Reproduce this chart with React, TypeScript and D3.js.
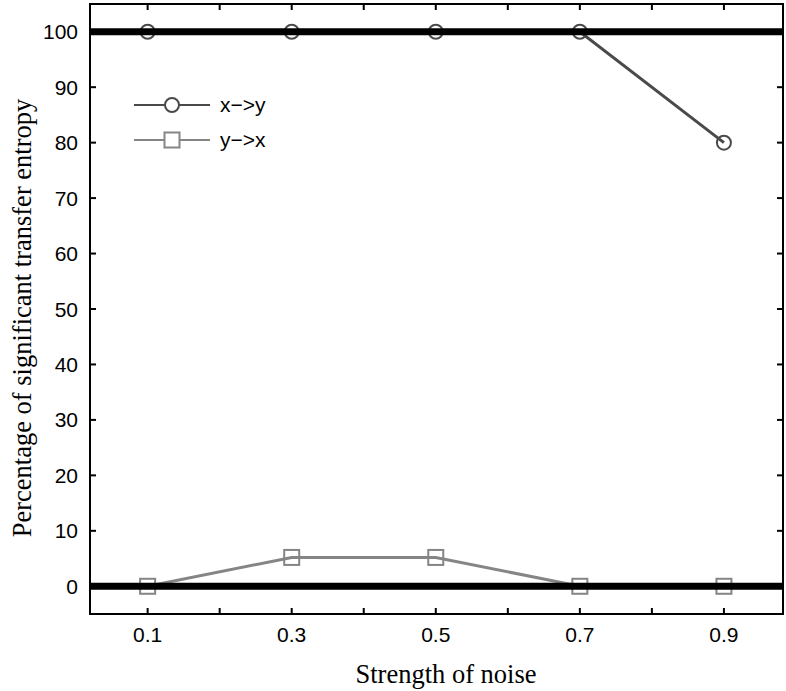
import React from "react";
import * as d3 from "d3";

const noise = [0.1, 0.3, 0.5, 0.7, 0.9];
const xToY = [100, 100, 100, 100, 80];
const yToX = [0, 5.2, 5.2, 0, 0];
const xTicks = [0.1, 0.2, 0.3, 0.4, 0.5, 0.6, 0.7, 0.8, 0.9];
const xTickLabels = ["0.1", "0.3", "0.5", "0.7", "0.9"];
const yTicks = [0, 10, 20, 30, 40, 50, 60, 70, 80, 90, 100];
const refLines = [0, 100];
const seriesNames = ["x\u2212>y", "y\u2212>x"];

const W = 786;
const H = 691;
const L = 90, R = 783, T = 4, B = 614;

export default function App() {
  const x = d3.scaleLinear().domain([0.02, 0.982]).range([L, R]);
  const y = d3.scaleLinear().domain([-5, 105]).range([B, T]);
  const line = d3
    .line<number>()
    .x((_, i) => x(noise[i]))
    .y((d) => y(d));
  const tick = 6;
  const sans = "'Liberation Sans', Arial, Helvetica, sans-serif";
  const serif = "'Liberation Serif', 'Times New Roman', serif";
  const c1 = "#4a4a4a";
  const c2 = "#858585";
  const sq = 15;

  return (
    <svg width={W} height={H} style={{ position: "absolute", left: 0, top: 0, background: "#fff" }}>
      <rect x={0} y={0} width={W} height={H} fill="#fff" />
      {/* series lines */}
      <path d={line(xToY) || ""} fill="none" stroke={c1} strokeWidth={3} />
      <path d={line(yToX) || ""} fill="none" stroke={c2} strokeWidth={3} />
      {xToY.map((v, i) => (
        <circle key={"c" + i} cx={x(noise[i])} cy={y(v)} r={7} fill="none" stroke={c1} strokeWidth={2} />
      ))}
      {yToX.map((v, i) => (
        <rect key={"s" + i} x={x(noise[i]) - sq / 2} y={y(v) - sq / 2} width={sq} height={sq} fill="none" stroke={c2} strokeWidth={2} />
      ))}
      {/* thick reference lines */}
      {refLines.map((v) => (
        <line key={"r" + v} x1={L} x2={R} y1={y(v)} y2={y(v)} stroke="#000" strokeWidth={7} />
      ))}
      {/* frame */}
      <rect x={L} y={T} width={R - L} height={B - T} fill="none" stroke="#000" strokeWidth={2} />
      {/* x ticks */}
      {xTicks.map((t) => (
        <g key={"xt" + t}>
          <line x1={x(t)} x2={x(t)} y1={B} y2={B - tick} stroke="#000" strokeWidth={2} />
          <line x1={x(t)} x2={x(t)} y1={T} y2={T + tick} stroke="#000" strokeWidth={2} />
        </g>
      ))}
      {noise.map((t, i) => (
        <text key={"xl" + t} x={x(t)} y={642} textAnchor="middle" fontFamily={sans} fontSize={21} fill="#000">
          {xTickLabels[i]}
        </text>
      ))}
      {/* y ticks */}
      {yTicks.map((t) => (
        <g key={"yt" + t}>
          <line x1={L} x2={L + tick} y1={y(t)} y2={y(t)} stroke="#000" strokeWidth={2} />
          <line x1={R} x2={R - tick} y1={y(t)} y2={y(t)} stroke="#000" strokeWidth={2} />
          <text x={78} y={y(t) + 7.5} textAnchor="end" fontFamily={sans} fontSize={21} fill="#000">
            {t}
          </text>
        </g>
      ))}
      {/* axis titles */}
      <text x={446} y={683} textAnchor="middle" fontFamily={serif} fontSize={26.5} fill="#000">
        Strength of noise
      </text>
      <text transform={`translate(31,318) rotate(-90)`} textAnchor="middle" fontFamily={serif} fontSize={26.5} fill="#000">
        Percentage of significant transfer entropy
      </text>
      {/* legend */}
      <g>
        <line x1={134} x2={210} y1={105} y2={105} stroke={c1} strokeWidth={2} />
        <circle cx={172} cy={105} r={7} fill="#fff" stroke={c1} strokeWidth={2} />
        <text x={220} y={112} fontFamily={sans} fontSize={21} fill="#000">{seriesNames[0]}</text>
        <line x1={134} x2={210} y1={140} y2={140} stroke={c2} strokeWidth={2} />
        <rect x={172 - sq / 2} y={140 - sq / 2} width={sq} height={sq} fill="#fff" stroke={c2} strokeWidth={2} />
        <text x={220} y={147} fontFamily={sans} fontSize={21} fill="#000">{seriesNames[1]}</text>
      </g>
    </svg>
  );
}
